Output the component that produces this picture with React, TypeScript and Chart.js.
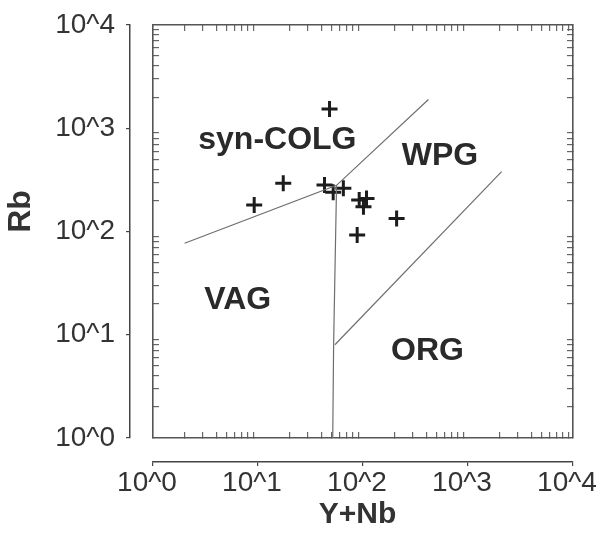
import React, { useEffect, useRef } from "react";
import { Chart, registerables } from "chart.js";

Chart.register(...registerables);

// ---- data ----
const sampleYNb = [48, 17.4, 9.2, 43, 52, 65, 92, 108, 101, 88, 209];
const sampleRb = [1540, 293, 181, 282, 240, 262, 202, 209, 174, 92.5, 134];

// boundary lines (Pearce et al. 1984)
const colgVagWpgX = [2, 56, 420];
const colgVagWpgY = [77, 280, 1900];
const vagOrgX = [56, 52.5, 51.5];
const vagOrgY = [280, 8, 1];
const orgWpgX = [54, 2090];
const orgWpgY = [8, 380];

// region labels (data coordinates)
const regionNames = ["syn-COLG", "WPG", "VAG", "ORG"];
const regionX = [15.3, 541, 6.4, 411];
const regionY = [769, 539, 21.7, 6.9];

// ticks
const majorTickValues = [1, 10, 100, 1000, 10000];
const xTickLabels = ["10^0", "10^1", "10^2", "10^3", "10^4"];
const yTickLabels = ["10^0", "10^1", "10^2", "10^3", "10^4"];
const minorTickValues = [
  2, 3, 4, 5, 6, 7, 8, 9,
  20, 30, 40, 50, 60, 70, 80, 90,
  200, 300, 400, 500, 600, 700, 800, 900,
  2000, 3000, 4000, 5000, 6000, 7000, 8000, 9000,
];
const xTitle = "Y+Nb";
const yTitle = "Rb";

const FONT = '"Liberation Sans", Arial, Helvetica, sans-serif';

const toPts = (xs: number[], ys: number[]) => xs.map((v, i) => ({ x: v, y: ys[i] }));

const frameScale = (position: string, axis: string, size: number) => ({
  type: "logarithmic" as const,
  axis,
  position,
  min: 1,
  max: 10000,
  afterBuildTicks: (s: any) => {
    s.ticks = minorTickValues.map((v) => ({ value: v }));
  },
  afterFit: (s: any) => {
    if (axis === "x") s.height = size;
    else s.width = size;
    s.paddingLeft = 0;
    s.paddingRight = 0;
    s.paddingTop = 0;
    s.paddingBottom = 0;
  },
  ticks: { display: false, autoSkip: false, callback: () => "" },
  grid: {
    display: true,
    drawOnChartArea: false,
    drawTicks: true,
    tickLength: -6,
    color: "#666",
    lineWidth: 1.2,
  },
  border: { display: true, color: "#555", width: 1.6 },
});

const regionTextPlugin = {
  id: "regionText",
  afterDraw(chart: any) {
    const { ctx, scales, chartArea } = chart;
    const xs = scales.x;
    const ys = scales.y;
    ctx.save();
    ctx.fillStyle = "#2a2a2a";
    ctx.textAlign = "center";
    ctx.textBaseline = "middle";
    ctx.font = `bold 32px ${FONT}`;
    regionNames.forEach((name, i) => {
      ctx.fillText(name, xs.getPixelForValue(regionX[i]), ys.getPixelForValue(regionY[i]));
    });
    // axis titles
    ctx.fillStyle = "#333";
    ctx.font = `bold 30px ${FONT}`;
    ctx.fillText(xTitle, (chartArea.left + chartArea.right) / 2 - 5.5, chart.height - 25);
    ctx.font = `bold 32px ${FONT}`;
    ctx.translate(21, (chartArea.top + chartArea.bottom) / 2 - 20);
    ctx.rotate(-Math.PI / 2);
    ctx.fillText(yTitle, 0, 0);
    ctx.restore();
  },
};

export default function App() {
  const ref = useRef<HTMLCanvasElement>(null);

  useEffect(() => {
    if (!ref.current) return;
    Chart.defaults.font.family = FONT;
    const lineStyle = {
      showLine: true,
      borderColor: "#6e6e6e",
      borderWidth: 1.2,
      pointRadius: 0,
      fill: false,
      tension: 0,
    };
    const chart = new Chart(ref.current, {
      type: "scatter",
      data: {
        datasets: [
          { label: "syn-COLG/VAG/WPG", data: toPts(colgVagWpgX, colgVagWpgY), ...lineStyle },
          { label: "VAG/ORG", data: toPts(vagOrgX, vagOrgY), ...lineStyle },
          { label: "ORG/WPG", data: toPts(orgWpgX, orgWpgY), ...lineStyle },
          {
            label: "samples",
            data: toPts(sampleYNb, sampleRb),
            pointStyle: "cross",
            pointRadius: 8,
            pointBorderWidth: 3,
            borderColor: "#1c1c1c",
            backgroundColor: "#1c1c1c",
            showLine: false,
          } as any,
        ],
      },
      options: {
        animation: false,
        responsive: false,
        devicePixelRatio: 1,
        layout: { padding: { left: 0, top: 25, right: 27, bottom: 0 } },
        plugins: {
          legend: { display: false },
          tooltip: { enabled: false },
        },
        scales: {
          x: frameScale("bottom", "x", 24) as any,
          xTop: frameScale("top", "x", 0) as any,
          y: frameScale("left", "y", 23) as any,
          yRight: frameScale("right", "y", 0) as any,
          x2: {
            type: "logarithmic",
            axis: "x",
            position: "bottom",
            weight: 1,
            min: 1,
            max: 10000,
            afterBuildTicks: (s: any) => {
              s.ticks = majorTickValues.map((v) => ({ value: v }));
            },
            afterFit: (s: any) => {
              s.height = 78;
              s.paddingLeft = 0;
              s.paddingRight = 0;
            },
            ticks: {
              autoSkip: false,
              maxRotation: 0,
              padding: 3,
              labelOffset: -6,
              color: "#333",
              font: { size: 28, family: FONT, lineHeight: 1 },
              callback: (_v: any, i: number) => xTickLabels[i],
            },
            grid: { drawOnChartArea: false, tickLength: 4, color: "#444", lineWidth: 1.2 },
            border: { display: true, color: "#444", width: 1.5 },
          } as any,
          y2: {
            type: "logarithmic",
            axis: "y",
            position: "left",
            weight: 1,
            min: 1,
            max: 10000,
            afterBuildTicks: (s: any) => {
              s.ticks = majorTickValues.map((v) => ({ value: v }));
            },
            afterFit: (s: any) => {
              s.width = 130;
              s.paddingTop = 0;
              s.paddingBottom = 0;
            },
            ticks: {
              autoSkip: false,
              padding: 11,
              color: "#333",
              font: { size: 28, family: FONT, lineHeight: 1 },
              callback: (_v: any, i: number) => yTickLabels[i],
            },
            grid: { drawOnChartArea: false, tickLength: 4, color: "#444", lineWidth: 1.2 },
            border: { display: true, color: "#444", width: 1.5 },
          } as any,
        },
      },
      plugins: [regionTextPlugin],
    });
    return () => chart.destroy();
  }, []);

  return (
    <div style={{ position: "absolute", left: 0, top: 0, width: 600, height: 540, background: "#fff" }}>
      <canvas ref={ref} width={600} height={540} style={{ display: "block" }} />
    </div>
  );
}
